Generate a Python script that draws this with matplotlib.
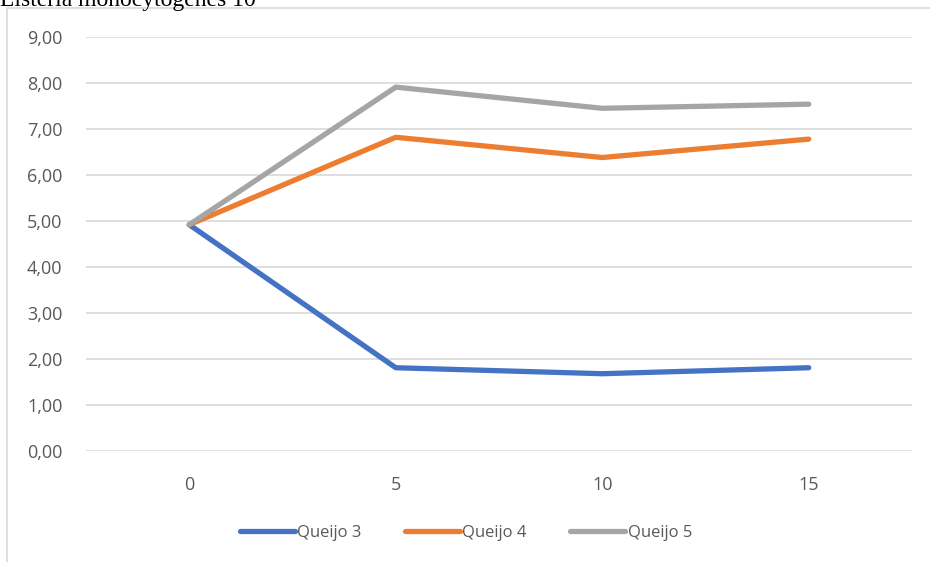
import matplotlib.pyplot as plt
from matplotlib.patches import Rectangle

dias = ["0", "5", "10", "15"]
queijo3 = [4.92, 1.81, 1.68, 1.81]
queijo4 = [4.92, 6.82, 6.38, 6.78]
queijo5 = [4.92, 7.91, 7.45, 7.54]
y_ticks = [0, 1, 2, 3, 4, 5, 6, 7, 8, 9]

W, H = 930, 562
fig = plt.figure(figsize=(W / 100, H / 100), dpi=100)
plt.rcParams["font.family"] = ["Open Sans", "DejaVu Sans"]

# chart frame, cut by the figure edges
fig.patches.append(Rectangle((7 / W, -0.1), 1.2, 1 - 8 / H + 0.1, transform=fig.transFigure,
                             fill=False, edgecolor="#d9d9d9", linewidth=1.2))

# heading, mostly off the top edge
fig.text(0 / W, 1 - 6 / H, "Listeria monocytogenes 10\u2074", family="Liberation Serif",
         fontsize=17, va="baseline", ha="left", color="black")

ax = fig.add_axes([86 / W, 1 - 451 / H, (912 - 86) / W, (451 - 37) / H])
x = range(len(dias))
ax.plot(x, queijo3, color="#4472C4", lw=3.8, solid_capstyle="round", label="Queijo 3")
ax.plot(x, queijo4, color="#ED7D31", lw=3.8, solid_capstyle="round", label="Queijo 4")
ax.plot(x, queijo5, color="#A5A5A5", lw=3.8, solid_capstyle="round", label="Queijo 5")

ax.set_xlim(-0.5, len(dias) - 0.5)
ax.set_ylim(0, 9)
ax.set_xticks(list(x))
ax.set_xticklabels(dias)
ax.set_yticks(y_ticks)
ax.set_yticklabels([f"{v:.2f}".replace(".", ",") for v in y_ticks])
ax.grid(axis="y", color="#d9d9d9", lw=1.2)
ax.set_axisbelow(True)
for s in ax.spines.values():
    s.set_visible(False)
ax.tick_params(length=0, labelsize=13, labelcolor="#595959")
ax.tick_params(axis="y", pad=17)
ax.tick_params(axis="x", pad=18)

leg = fig.legend(loc="center", bbox_to_anchor=(466 / W, 1 - 533 / H), ncol=3, frameon=False,
                 fontsize=12, handlelength=3.3, handletextpad=0.15, columnspacing=2.6)
for t in leg.get_texts():
    t.set_color("#595959")

fig.savefig("out.png", dpi=100)
